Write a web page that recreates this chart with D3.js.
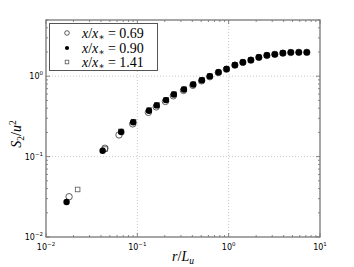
<!DOCTYPE html>
<html>
<head>
<meta charset="utf-8">
<script src="https://cdn.jsdelivr.net/npm/d3@7"></script>
<style>
  body { margin: 0; background: #fff; }
  svg { display: block; }
  .tick-label { font-family: "DejaVu Sans", sans-serif; font-size: 8px; fill: #000; }
  .math { font-family: "Liberation Serif", "DejaVu Serif", serif; fill: #000; }
</style>
</head>
<body>
<svg id="chart" width="354" height="267"></svg>
<script>
// x / x* = 0.69 (open circles)
const rOpen = [0.0179, 0.0442, 0.063, 0.089, 0.132, 0.161, 0.203, 0.248, 0.32, 0.405, 0.505, 0.62, 0.77, 0.945, 1.17, 1.43, 1.75, 2.14, 2.62, 3.2, 3.92, 4.79, 5.86, 7.17];
const sOpen = [0.0317, 0.127, 0.186, 0.255, 0.355, 0.415, 0.485, 0.57, 0.665, 0.77, 0.875, 0.985, 1.11, 1.22, 1.37, 1.48, 1.58, 1.71, 1.81, 1.87, 1.93, 1.97, 1.98, 1.98];
// x / x* = 0.90 (filled)
const rFill = [0.0168, 0.0417, 0.0667, 0.090, 0.134, 0.163, 0.206, 0.251, 0.324, 0.409, 0.509, 0.622, 0.774, 0.948, 1.17, 1.43, 1.75, 2.14, 2.62, 3.2, 3.92, 4.79, 5.86, 7.17];
const sFill = [0.0272, 0.118, 0.202, 0.267, 0.372, 0.433, 0.504, 0.593, 0.684, 0.789, 0.892, 1.0, 1.12, 1.23, 1.38, 1.49, 1.59, 1.72, 1.82, 1.87, 1.94, 1.98, 1.98, 1.98];
// x / x* = 1.41 (open squares)
const rSq = [0.0222, 0.0445, 0.066, 0.091, 0.135, 0.164, 0.207, 0.252, 0.325, 0.41, 0.51, 0.623, 0.775, 0.95, 1.17, 1.43, 1.75, 2.14, 2.62, 3.2, 3.92, 4.79, 5.86, 7.17];
const sSq = [0.039, 0.124, 0.206, 0.272, 0.38, 0.44, 0.51, 0.6, 0.69, 0.795, 0.9, 1.0, 1.12, 1.23, 1.38, 1.49, 1.59, 1.72, 1.82, 1.87, 1.94, 1.98, 1.98, 1.98];

const legendLabels = ["0.69", "0.90", "1.41"];
const xTicks = [0.01, 0.1, 1, 10];
const yTicks = [0.01, 0.1, 1];

const svg = d3.select("#chart");
const mLeft = 46, mRight = 320, mTop = 20, mBottom = 237;

const x = d3.scaleLog().domain([0.01, 10]).range([mLeft, mRight]);
const y = d3.scaleLog().domain([0.01, 5]).range([mBottom, mTop]);

// minor ticks
const minor = (lo, hi) => {
  const out = [];
  for (let e = Math.floor(Math.log10(lo)); e <= Math.ceil(Math.log10(hi)); e++) {
    for (let k = 1; k < 10; k++) {
      const v = +(k * Math.pow(10, e)).toPrecision(6);
      if (v >= lo && v <= hi) out.push(v);
    }
  }
  return out;
};

// grid
const grid = svg.append("g").attr("stroke", "#bbb").attr("stroke-dasharray", "1,2").attr("stroke-width", 0.8);
[0.1, 1].forEach(v => {
  grid.append("line").attr("x1", x(v)).attr("x2", x(v)).attr("y1", mTop).attr("y2", mBottom);
  grid.append("line").attr("x1", mLeft).attr("x2", mRight).attr("y1", y(v)).attr("y2", y(v));
});

// ticks on all sides (inward)
const tk = svg.append("g").attr("stroke", "#555").attr("stroke-width", 0.7);
minor(0.01, 10).forEach(v => {
  const big = xTicks.includes(v) ? 4 : 2;
  tk.append("line").attr("x1", x(v)).attr("x2", x(v)).attr("y1", mBottom).attr("y2", mBottom - big);
  tk.append("line").attr("x1", x(v)).attr("x2", x(v)).attr("y1", mTop).attr("y2", mTop + big);
});
minor(0.01, 5).forEach(v => {
  const big = yTicks.includes(v) ? 4 : 2;
  tk.append("line").attr("x1", mLeft).attr("x2", mLeft + big).attr("y1", y(v)).attr("y2", y(v));
  tk.append("line").attr("x1", mRight).attr("x2", mRight - big).attr("y1", y(v)).attr("y2", y(v));
});

// frame
svg.append("rect").attr("x", mLeft).attr("y", mTop).attr("width", mRight - mLeft).attr("height", mBottom - mTop)
  .attr("fill", "none").attr("stroke", "#777").attr("stroke-width", 1.3);

// tick labels
const expOf = v => Math.round(Math.log10(v));
xTicks.forEach(v => {
  const t = svg.append("text").attr("class", "tick-label").attr("x", x(v)).attr("y", 250).attr("text-anchor", "middle");
  t.append("tspan").text("10");
  t.append("tspan").attr("dy", -4).attr("font-size", "5.5px").text(expOf(v) < 0 ? "\u2212" + (-expOf(v)) : expOf(v));
});
yTicks.forEach(v => {
  const t = svg.append("text").attr("class", "tick-label").attr("x", 43).attr("y", y(v) + 3).attr("text-anchor", "end");
  t.append("tspan").text("10");
  t.append("tspan").attr("dy", -4).attr("font-size", "5.5px").text(expOf(v) < 0 ? "\u2212" + (-expOf(v)) : expOf(v));
});

// axis labels
const xl = svg.append("text").attr("class", "math").attr("x", 183).attr("y", 261).attr("text-anchor", "middle").attr("font-size", "14px");
xl.append("tspan").attr("font-style", "italic").text("r");
xl.append("tspan").text("/");
xl.append("tspan").attr("font-style", "italic").text("L");
xl.append("tspan").attr("font-style", "italic").attr("font-size", "9.5px").attr("dy", 3).text("u");

const yl = svg.append("text").attr("class", "math").attr("transform", "translate(21,134) rotate(-90)")
  .attr("text-anchor", "middle").attr("font-size", "14px");
yl.append("tspan").attr("font-style", "italic").text("S");
yl.append("tspan").attr("font-size", "9.5px").attr("dy", 3).text("2");
yl.append("tspan").attr("dy", -3).text("/");
yl.append("tspan").attr("font-style", "italic").text("u");
yl.append("tspan").attr("font-size", "9.5px").attr("dy", -5).text("2");

// data
const pts = (rs, ss) => rs.map((r, i) => ({ r: r, s: ss[i] }));
const plot = svg.append("g");

plot.selectAll(".sq").data(pts(rSq, sSq)).enter().append("rect")
  .attr("class", "sq")
  .attr("x", d => x(d.r) - 2.3).attr("y", d => y(d.s) - 2.3)
  .attr("width", 4.6).attr("height", 4.6)
  .attr("fill", "#fff").attr("stroke", "#555").attr("stroke-width", 0.8);

plot.selectAll(".oc").data(pts(rOpen, sOpen)).enter().append("circle")
  .attr("class", "oc")
  .attr("cx", d => x(d.r)).attr("cy", d => y(d.s)).attr("r", 3.2)
  .attr("fill", "none").attr("stroke", "#333").attr("stroke-width", 0.8);

plot.selectAll(".fc").data(pts(rFill, sFill)).enter().append("circle")
  .attr("class", "fc")
  .attr("cx", d => x(d.r)).attr("cy", d => y(d.s)).attr("r", 3.2)
  .attr("fill", "#000");

// legend
const lg = svg.append("g");
lg.append("rect").attr("x", 49.5).attr("y", 23.5).attr("width", 108).attr("height", 47)
  .attr("fill", "#fff").attr("stroke", "#555").attr("stroke-width", 1);
const rowsY = [33, 48, 62];
lg.append("circle").attr("cx", 67).attr("cy", rowsY[0]).attr("r", 2.3).attr("fill", "#fff").attr("stroke", "#333").attr("stroke-width", 0.8);
lg.append("circle").attr("cx", 67).attr("cy", rowsY[1]).attr("r", 2.1).attr("fill", "#000");
lg.append("rect").attr("x", 65.2).attr("y", rowsY[2] - 1.8).attr("width", 3.6).attr("height", 3.6).attr("fill", "#fff").attr("stroke", "#555").attr("stroke-width", 0.8);
legendLabels.forEach((lab, i) => {
  const t = lg.append("text").attr("class", "math").attr("x", 82).attr("y", rowsY[i] + 4.5).attr("font-size", "14px");
  t.append("tspan").attr("font-style", "italic").text("x");
  t.append("tspan").text("/");
  t.append("tspan").attr("font-style", "italic").text("x");
  t.append("tspan").attr("font-size", "9px").attr("dy", 2.5).text("\u2217");
  t.append("tspan").attr("dy", -2.5).text(" = " + lab);
});
</script>
</body>
</html>
